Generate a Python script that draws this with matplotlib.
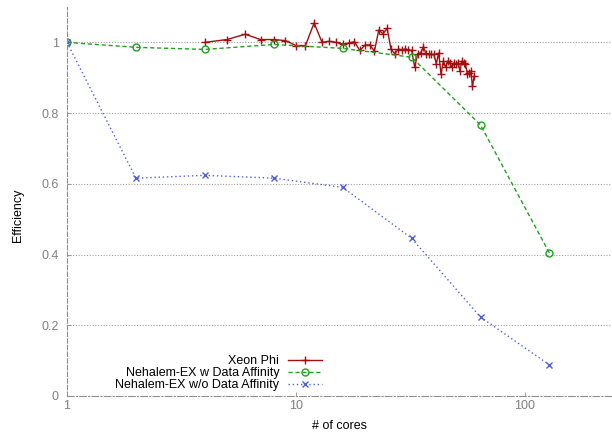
import numpy as np
import matplotlib
matplotlib.use('Agg')
import matplotlib.pyplot as plt
from matplotlib.ticker import FixedLocator, NullLocator, FixedFormatter

plt.rcParams['font.family'] = ['Liberation Sans', 'DejaVu Sans']

# Xeon Phi
phi_cores = [4, 5, 6, 7, 8, 9, 10, 11, 12, 13, 14, 15, 16, 17, 18, 19, 20,
             21, 22, 23, 24, 25, 26, 27, 28, 29, 30, 31, 32, 33, 34, 35, 36,
             37, 38, 39, 40, 41, 42, 43, 44, 45, 46, 47, 48, 49, 50, 51, 52,
             53, 54, 55, 56, 57, 58, 59, 60]
phi_eff = [1.0, 1.008, 1.023, 1.008, 1.008, 1.005, 0.991, 0.991, 1.055, 1.0,
           1.003, 1.0, 0.995, 0.998, 1.002, 0.977, 0.992, 0.993, 0.975, 1.035,
           1.024, 1.04, 0.981, 0.968, 0.981, 0.979, 0.981, 0.979, 0.977, 0.93,
           0.968, 0.97, 0.987, 0.968, 0.968, 0.966, 0.966, 0.94, 0.97, 0.91,
           0.947, 0.93, 0.947, 0.942, 0.93, 0.942, 0.938, 0.942, 0.919, 0.947,
           0.942, 0.938, 0.911, 0.913, 0.919, 0.876, 0.904]

# Nehalem-EX
nh_cores = [1, 2, 4, 8, 16, 32, 64, 128]
nh_aff = [1.0, 0.986, 0.980, 0.994, 0.983, 0.958, 0.766, 0.404]
nh_noaff = [1.0, 0.616, 0.624, 0.616, 0.590, 0.446, 0.223, 0.088]

fig = plt.figure(figsize=(6.12, 4.33), dpi=100)
ax = fig.add_axes([67/612, 1-396/433, 1-67/612, 389/433])

ax.plot(phi_cores, phi_eff, color='#a01010', lw=1.0, marker='+', ms=6,
        mew=1.0, label='Xeon Phi')
ax.plot(nh_cores, nh_aff, color='#20a020', lw=1.0, ls=(0, (3, 2)),
        marker='o', ms=5, mfc='none', mew=1.0,
        label='Nehalem-EX w Data Affinity')
ax.plot(nh_cores, nh_noaff, color='#5060d8', lw=1.0, ls=(0, (1, 2)),
        marker='x', ms=5, mew=1.0,
        label='Nehalem-EX w/o Data Affinity')

ax.set_xscale('log')
ax.set_xlim(1, 240)
ax.set_ylim(0, 1.1)
ax.xaxis.set_major_locator(FixedLocator([1, 10, 100]))
ax.xaxis.set_major_formatter(FixedFormatter(['1', '10', '100']))
ax.xaxis.set_minor_locator(NullLocator())
ax.set_yticks([0, 0.2, 0.4, 0.6, 0.8, 1.0])
ax.set_yticklabels(['0', '0.2', '0.4', '0.6', '0.8', '1'])

for y in [0.2, 0.4, 0.6, 0.8, 1.0]:
    ax.axhline(y, color='#a0a0a0', lw=0.8, ls=(0, (1, 1.5)), zorder=0)

ax.spines['top'].set_visible(False)
ax.spines['right'].set_visible(False)
ax.spines['left'].set_color('#909090')
ax.spines['left'].set_linestyle((0, (4, 2)))
ax.spines['left'].set_linewidth(0.8)
ax.spines['bottom'].set_color('#909090')
ax.spines['bottom'].set_linestyle((0, (6, 2, 1, 2)))
ax.spines['bottom'].set_linewidth(0.8)

ax.tick_params(direction='in', length=3, width=0.6, color='#909090',
               labelcolor='#808080', labelsize=9)
ax.tick_params(axis='x', pad=3)
ax.tick_params(axis='y', pad=6)

ax.set_xlabel('# of cores', fontsize=9)
ax.set_ylabel('Efficiency', fontsize=9)
ax.xaxis.set_label_coords(339/612, 1-426/433, transform=fig.transFigure)
ax.xaxis.label.set_va('center')
ax.yaxis.set_label_coords(18/612, 1-215/433, transform=fig.transFigure)
ax.yaxis.label.set_va('center')

ax.legend(loc='upper right', bbox_to_anchor=(328/612, 1-349/433),
          bbox_transform=fig.transFigure, frameon=False, markerfirst=False,
          fontsize=9, borderpad=0, labelspacing=0.0, handlelength=2.7,
          handletextpad=0.7)

fig.savefig('out.png', dpi=100)
